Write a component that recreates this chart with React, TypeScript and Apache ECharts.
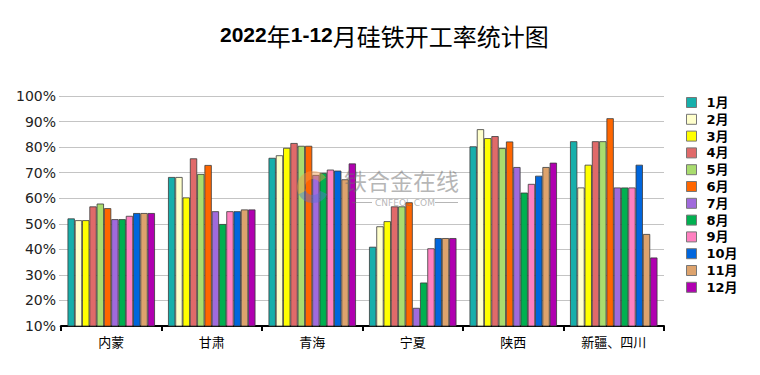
import React, { useEffect, useRef } from "react";
import * as echarts from "echarts";

const regions = ["内蒙", "甘肃", "青海", "宁夏", "陕西", "新疆、四川"];
const months = ["1月", "2月", "3月", "4月", "5月", "6月", "7月", "8月", "9月", "10月", "11月", "12月"];
const colors = ["#17AFAB", "#FFFFCC", "#FFFF00", "#E06A6A", "#A9DC6E", "#FF6600", "#A06ADC", "#00B050", "#FF80C0", "#0066DD", "#DDA36D", "#B000B0"];

// values per month, ordered by region
const m1 = [52.1, 68.3, 75.8, 41.0, 80.3, 82.3];
const m2 = [51.4, 68.3, 76.8, 49.0, 87.0, 64.2];
const m3 = [51.4, 60.3, 79.7, 51.0, 83.5, 73.1];
const m4 = [56.8, 75.6, 81.6, 56.8, 84.3, 82.3];
const m5 = [57.9, 69.5, 80.5, 56.8, 79.6, 82.3];
const m6 = [56.1, 73.0, 80.5, 58.4, 82.2, 91.3];
const m7 = [51.8, 54.9, 69.1, 17.1, 72.2, 64.2];
const m8 = [51.8, 49.9, 69.9, 27.0, 62.2, 64.2];
const m9 = [53.1, 54.9, 71.2, 40.4, 65.6, 64.2];
const m10 = [54.2, 54.9, 70.8, 44.4, 68.8, 73.1];
const m11 = [54.2, 55.6, 67.4, 44.4, 72.2, 46.0];
const m12 = [54.2, 55.6, 73.6, 44.4, 73.9, 36.8];
const monthValues = [m1, m2, m3, m4, m5, m6, m7, m8, m9, m10, m11, m12];

const yTicks = { min: 10, max: 100, interval: 10 };

export default function App() {
  const ref = useRef<HTMLDivElement>(null);
  useEffect(() => {
    if (!ref.current) return;
    document.body.style.margin = "0";
    const chart = echarts.init(ref.current, undefined, { renderer: "svg" });
    const wm = "rgba(110,110,110,0.5)";
    chart.setOption({
      animation: false,
      backgroundColor: "#ffffff",
      title: {
        text: "{d|2022}{c|年}{d|1-12}{c|月硅铁开工率统计图}",
        left: 215,
        top: 18,
        textStyle: {
          fontSize: 22,
          color: "#000",
          rich: {
            d: {
              fontSize: 21,
              fontWeight: "bold",
              color: "#000",
              fontFamily: "Liberation Sans, Arial, sans-serif",
            },
            c: {
              fontSize: 24,
              fontWeight: "normal",
              color: "#000",
              fontFamily: "Noto Sans CJK SC, sans-serif",
            },
          },
        },
      },
      legend: {
        orient: "vertical",
        left: 681,
        top: 91,
        itemWidth: 10,
        itemHeight: 10,
        itemGap: 3.8,
        icon: "rect",
        data: months,
        itemStyle: { borderColor: "#777", borderWidth: 1 },
        textStyle: {
          fontSize: 13,
          lineHeight: 13,
          fontWeight: "bold",
          color: "#000",
          fontFamily: "DejaVu Sans, Noto Sans CJK SC, sans-serif",
          padding: [0, 0, 0, 5],
        },
      },
      grid: { left: 61, right: 96, top: 96, bottom: 49, containLabel: false },
      xAxis: {
        type: "category",
        data: regions,
        axisLine: { lineStyle: { color: "#000", width: 2 } },
        axisTick: { show: true, alignWithLabel: false, length: 5, lineStyle: { color: "#000", width: 2 } },
        axisLabel: {
          color: "#000",
          fontSize: 13,
          margin: 9,
          fontFamily: "Noto Sans CJK SC, sans-serif",
        },
      },
      yAxis: {
        type: "value",
        min: yTicks.min,
        max: yTicks.max,
        interval: yTicks.interval,
        axisLine: { show: false },
        axisTick: { show: true, length: 2, lineStyle: { color: "#c0c0c0" } },
        splitLine: { lineStyle: { color: "#c4c4c4", width: 1 } },
        axisLabel: {
          formatter: "{value}%",
          color: "#222",
          fontSize: 14,
          margin: 5,
          fontFamily: "DejaVu Sans, sans-serif",
        },
      },
      series: months.map((m, i) => ({
        name: m,
        type: "bar",
        data: monthValues[i],
        barGap: "0%",
        barCategoryGap: "13%",
        itemStyle: { color: colors[i], borderColor: "#3a3a3a", borderWidth: 0.8 },
      })),
      graphic: [
        {
          type: "sector",
          z: 100,
          silent: true,
          shape: { cx: 313, cy: 187, r: 16, r0: 8, startAngle: Math.PI * 0.85, endAngle: Math.PI * 1.8 },
          style: { fill: "rgba(245,150,70,0.45)" },
        },
        {
          type: "sector",
          z: 100,
          silent: true,
          shape: { cx: 313, cy: 187, r: 16, r0: 8, startAngle: Math.PI * 0.15, endAngle: Math.PI * 0.85 },
          style: { fill: "rgba(90,110,210,0.45)" },
        },
        {
          type: "text",
          z: 100,
          silent: true,
          x: 344,
          y: 168,
          style: {
            text: "铁合金在线",
            fontSize: 23,
            lineHeight: 23,
            verticalAlign: "top",
            fill: wm,
            fontFamily: "Noto Sans CJK SC, sans-serif",
          },
        },
        {
          type: "line",
          z: 100,
          silent: true,
          shape: { x1: 352, y1: 202.5, x2: 372, y2: 202.5 },
          style: { stroke: wm, lineWidth: 1 },
        },
        {
          type: "line",
          z: 100,
          silent: true,
          shape: { x1: 435, y1: 202.5, x2: 458, y2: 202.5 },
          style: { stroke: wm, lineWidth: 1 },
        },
        {
          type: "text",
          z: 100,
          silent: true,
          x: 375,
          y: 198,
          style: {
            text: "CNFEOL.COM",
            fontSize: 9,
            lineHeight: 9,
            verticalAlign: "top",
            fill: wm,
            fontFamily: "DejaVu Sans, sans-serif",
          },
        },
      ],
    });
    return () => chart.dispose();
  }, []);
  return <div ref={ref} style={{ width: 760, height: 375 }} />;
}
